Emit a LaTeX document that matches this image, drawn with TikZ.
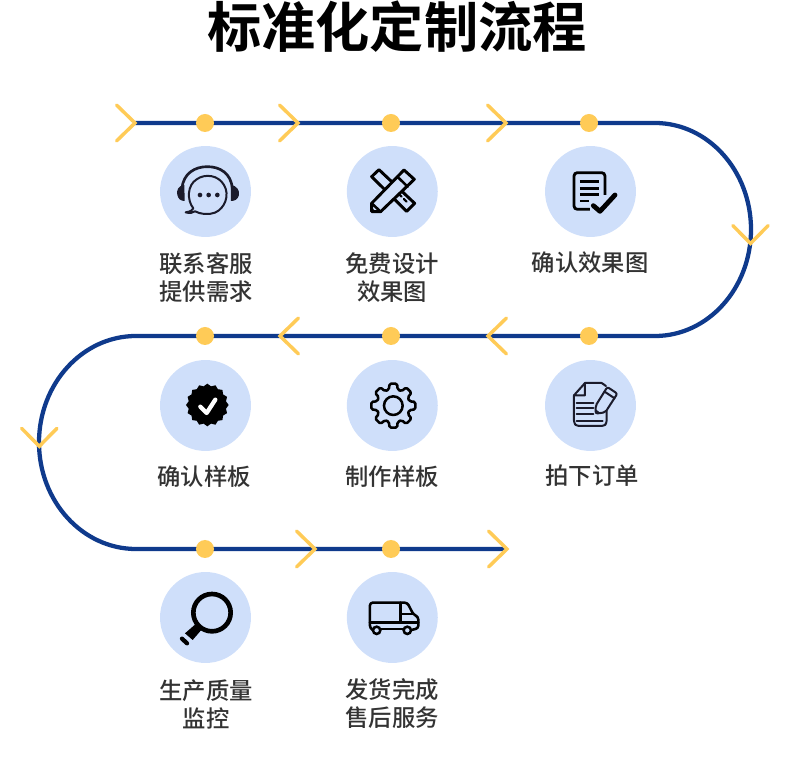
\documentclass[tikz,border=0pt]{standalone}
\usepackage{fontspec}
\newfontfamily\cjk{Noto Sans CJK SC Medium}
\newfontfamily\cjkb{Noto Sans CJK SC Bold}
\definecolor{navy}{HTML}{0F3A8C}
\definecolor{gold}{HTML}{FFCB57}
\definecolor{pale}{HTML}{CFDFFA}
\definecolor{ink}{HTML}{1B1B2B}
\definecolor{lab}{HTML}{333333}
\tikzset{
  route/.style={draw=navy,line width=3.2pt},
  chevline/.style={draw=gold,line width=2.6pt,line cap=round,line join=miter},
  dot/.style={circle,fill=gold,minimum size=13.5pt,inner sep=0pt},
  disc/.style={circle,fill=pale,minimum size=68.2pt,inner sep=0pt},
  lbl/.style={font=\cjk\fontsize{17.5}{21}\selectfont,text=lab,align=center,inner sep=0pt},
  thin ink/.style={draw=ink,line width=1.5pt,line join=round,line cap=round},
  med ink/.style={draw=black,line width=1.9pt,line join=round,line cap=round},
}
\begin{document}
\begin{tikzpicture}[x=0.75pt,y=-0.75pt]
\useasboundingbox (0,0) rectangle (790,773);
\node[font=\cjkb\fontsize{40.7}{44}\selectfont,text=black,inner sep=0pt] (title) at (397,27) {标准化定制流程};
% route
\coordinate (start) at (135,123);
\coordinate (topR) at (655,123);
\coordinate (midL) at (136,336);
\coordinate (finish) at (505,549);
\draw[route] (start) -- (topR) arc[start angle=-90,end angle=90,x radius=96,y radius=106.5] -- (midL) arc[start angle=-90,end angle=-270,x radius=97,y radius=106.5] -- (finish);
% chevrons
\coordinate (c1) at (135,123);
\coordinate (c2) at (298,123);
\coordinate (c3) at (506,123);
\coordinate (c4) at (750.5,243.5);
\coordinate (c5) at (488,336);
\coordinate (c6) at (280,336);
\coordinate (c7) at (39.3,446.3);
\coordinate (c8) at (315,549);
\coordinate (c9) at (507,549);
\foreach \c in {c1,c2,c3,c8,c9} \draw[chevline] (\c) ++(-18.5,-18) -- (\c) -- ++(-18.5,18);
\foreach \c in {c5,c6} \draw[chevline] (\c) ++(18.5,-18) -- (\c) -- ++(18.5,18);
\foreach \c in {c4,c7} \draw[chevline] (\c) ++(-17.7,-18) -- (\c) -- ++(17.7,-18);
% dots
\foreach \n/\x/\y in {d1/205/123,d2/391/123,d3/589/123,d4/589/336,d5/391/336,d6/205/336,d7/205/549,d8/391/549}
  \node[dot] (\n) at (\x,\y) {};
% discs
\foreach \n/\x/\y in {s1/205.5/191.5,s2/392.3/191.5,s3/590.5/191.5,s4/590.5/405.5,s5/392.3/405.5,s6/205.5/405.5,s7/205.5/617.5,s8/392.3/617.5}
  \node[disc] (\n) at (\x,\y) {};
% labels
\node[lbl] (l1) at (206,278) {联系客服\\提供需求};
\node[lbl] (l2) at (392,278) {免费设计\\效果图};
\node[lbl] (l3) at (590,263) {确认效果图};
\node[lbl] (l4) at (592,476) {拍下订单};
\node[lbl] (l5) at (392,477) {制作样板};
\node[lbl] (l6) at (204,477) {确认样板};
\node[lbl] (l7) at (206,704) {生产质量\\监控};
\node[lbl] (l8) at (392,704) {发货完成\\售后服务};
% icons: headset, ruler and pencil
\begin{scope}[shift={(150,140)},scale=0.3333]
  \draw[thin ink,line width=2pt] (96,145) .. controls (100,100) and (135,80) .. (172,80) .. controls (210,80) and (243,100) .. (247,145);
  \fill[ink] (103,135) .. controls (85,137) and (78,152) .. (82,165) .. controls (85,178) and (93,183) .. (104,183) -- cycle;
  \fill[ink] (243,135) .. controls (260,137) and (270,152) .. (267,165) .. controls (264,178) and (255,183) .. (243,183) -- cycle;
  \draw[thin ink] (130,205) .. controls (110,180) and (112,135) .. (140,118) .. controls (165,100) and (205,105) .. (222,135) .. controls (240,165) and (225,205) .. (195,218) .. controls (175,226) and (150,222) .. (135,214) .. controls (128,220) and (118,220) .. (107,217) .. controls (120,215) and (127,212) .. (130,205) -- cycle;
  \foreach \x in {150,176,202} \fill[ink] (\x,165) circle[radius=7];
  % ruler
  \draw[med ink,line width=2.2pt] (665,110) -- (687,89) -- (794,190) -- (770,214) -- cycle;
  \draw[med ink,line width=1.6pt] (698,100) -- (708,110) (712,113) -- (718,119) (748,163) -- (755,170) (762,177) -- (770,185);
  % pencil
  \filldraw[draw=black,fill=pale,line width=2.2pt,line join=round] (665,215) -- (665,190) -- (762,90) -- (793,118) -- (692,215) -- cycle;
  \draw[med ink] (665,190) -- (692,215);
  \draw[med ink] (742,110) -- (773,140);
  \fill[black] (665,215) -- (665,203) -- (678,215) -- cycle;
\end{scope}
% icon: document with check
\begin{scope}[shift={(530,140)},scale=0.3333]
  \draw[draw=black,line width=2.1pt,rounded corners=2.5pt] (180,208) -- (132,208) -- (132,98) -- (225,98) -- (225,165);
  \draw[black,line width=1.8pt] (150,124) -- (208,124) (150,145) -- (208,145);
  \draw[black,line width=2.2pt] (150,164) -- (208,164);
  \draw[black,line width=1.5pt] (150,182) -- (178,182);
  \draw[pale,line width=6.5pt,line cap=round,line join=round] (190,197) -- (210,214) -- (255,165);
  \draw[black,line width=3.6pt,line cap=round,line join=round] (190,197) -- (210,214) -- (255,165);
\end{scope}
% icon: note and pencil
\begin{scope}[shift={(530,355)},scale=0.3333]
  \draw[thin ink,rounded corners=2pt] (132,121) -- (132,205) -- (140,213) -- (222,213) -- (230,205) -- (230,168);
  \draw[thin ink] (132,121) -- (165,84) -- (165,121) -- cycle;
  \draw[thin ink] (165,84) -- (215,84) -- (228,93);
  \draw[thin ink] (140,143) -- (190,143) (140,160) -- (190,160) (140,178) -- (190,178) (140,197) -- (218,197);
  \draw[thin ink,rounded corners=1.5pt] (197,152) -- (232,96) -- (262,116) -- (226,172) -- (197,176) -- cycle;
  \draw[thin ink] (224,110) -- (254,130);
  \fill[ink] (197,176) -- (197,163) -- (212,174) -- cycle;
\end{scope}
% icons: badge and gear
\begin{scope}[shift={(150,355)},scale=0.3333]
  \fill[black] ({172+64},150) \foreach \i in {1,...,31} { -- ({172+(64-7*mod(\i,2))*cos(\i*11.25)},{150+(64-7*mod(\i,2))*sin(\i*11.25)}) } -- cycle;
  \draw[white,line width=3.2pt,line cap=round,line join=round] (151,155) -- (170,174) -- (196,134);
  \draw[med ink] (730,152) circle[radius=28];
  \draw[med ink,rounded corners=1.2pt] ({730+67*cos(10)},{152+67*sin(10)})
    \foreach \k in {0,...,7} {
      -- ({730+67*cos(\k*45+10)},{152+67*sin(\k*45+10)})
      -- ({730+50*cos(\k*45+15)},{152+50*sin(\k*45+15)})
      -- ({730+50*cos(\k*45+30)},{152+50*sin(\k*45+30)})
      -- ({730+67*cos(\k*45+35)},{152+67*sin(\k*45+35)})
    } -- cycle;
\end{scope}
% icons: magnifier and van
\begin{scope}[shift={(150,565)},scale=0.3333]
  \draw[black,line width=3.5pt] (186,143) circle[radius=56];
  \fill[black] (136,178) -- (153,196) -- (128,225) -- (105,205) -- cycle;
  \draw[black,line width=3.2pt,line cap=round] (96,221) -- (111,235);
  \draw[med ink,rounded corners=2pt] (669,195) -- (660,190) -- (660,113) -- (772,113) -- (790,148) -- (805,156) -- (805,190) -- (784,195);
  \draw[med ink] (692,192) -- (760,192);
  \draw[med ink] (660,172) -- (805,172);
  \draw[med ink] (752,113) -- (752,172);
  \draw[med ink] (752,147) -- (790,147);
  \filldraw[draw=black,line width=1.9pt,fill=pale] (680,196) circle[radius=11];
  \filldraw[draw=black,line width=1.9pt,fill=pale] (772,196) circle[radius=11];
\end{scope}
\end{tikzpicture}
\end{document}
